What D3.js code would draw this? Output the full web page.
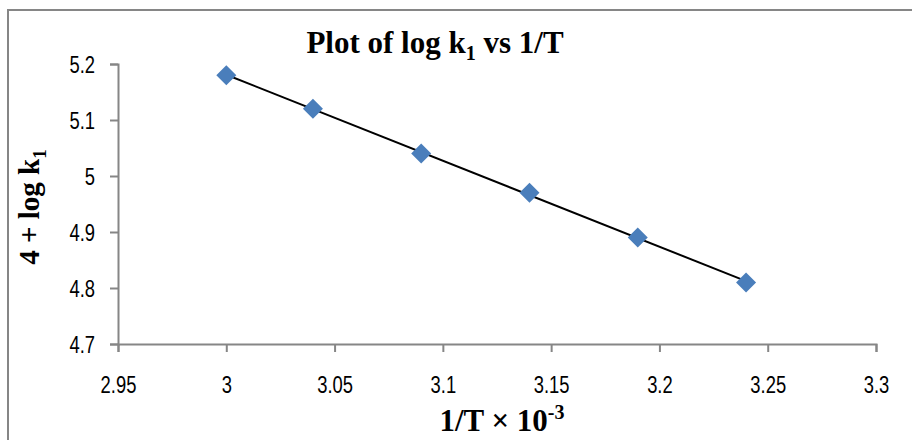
<!DOCTYPE html>
<html>
<head>
<meta charset="utf-8">
<script src="https://cdn.jsdelivr.net/npm/d3@7"></script>
<style>
body { margin: 0; background: #fff; }
svg { display: block; }
</style>
</head>
<body>
<svg id="chart" width="912" height="440"></svg>
<script>
// data
var invT = [3.00, 3.04, 3.09, 3.14, 3.19, 3.24];
var logK = [5.18, 5.12, 5.04, 4.97, 4.89, 4.81];
var xTicks = [2.95, 3, 3.05, 3.1, 3.15, 3.2, 3.25, 3.3];
var yTicks = [4.7, 4.8, 4.9, 5, 5.1, 5.2];

var svg = d3.select("#chart");
var axisColor = "#868686";
var serif = "'Liberation Serif', 'Times New Roman', serif";
var squeeze = 0.8; // tick labels are a narrow face in the original

// outer frame (right and bottom fall outside the picture)
svg.append("rect").attr("x", 8).attr("y", 10).attr("width", 960).attr("height", 500)
	.attr("fill", "none").attr("stroke", axisColor).attr("stroke-width", 2);

var x = d3.scaleLinear().domain([2.95, 3.3]).range([118, 876]);
var y = d3.scaleLinear().domain([4.7, 5.2]).range([344, 64]);

var xAxis = svg.append("g").attr("transform", "translate(0,344)")
	.call(d3.axisBottom(x).tickValues(xTicks).tickSize(8).tickPadding(25).tickFormat(d3.format("")));
var yAxis = svg.append("g").attr("transform", "translate(118,0)")
	.call(d3.axisLeft(y).tickValues(yTicks).tickSize(8).tickPadding(15).tickFormat(d3.format("")));

[xAxis, yAxis].forEach(function (a) {
	a.select(".domain").attr("stroke", axisColor).attr("stroke-width", 2);
	a.selectAll(".tick line").attr("stroke", axisColor).attr("stroke-width", 2);
	a.selectAll(".tick text").attr("fill", "#000")
		.style("font-family", "'Liberation Sans', Arial, sans-serif")
		.style("font-size", "23px")
		.attr("transform", "scale(" + squeeze + ",1)");
});
yAxis.selectAll(".tick text").attr("dy", "0.35em").attr("x", -23 / squeeze);

// least squares trendline over the data span
var mx = d3.mean(invT), my = d3.mean(logK);
var sxy = d3.sum(invT, function (v, i) { return (v - mx) * (logK[i] - my); });
var sxx = d3.sum(invT, function (v) { return (v - mx) * (v - mx); });
var slope = sxy / sxx, icpt = my - slope * mx;
var xEnds = d3.extent(invT);
svg.append("line")
	.attr("x1", x(xEnds[0])).attr("y1", y(slope * xEnds[0] + icpt))
	.attr("x2", x(xEnds[1])).attr("y2", y(slope * xEnds[1] + icpt))
	.attr("stroke", "#000").attr("stroke-width", 2);

// diamond markers
svg.append("g").selectAll("path").data(invT).enter().append("path")
	.attr("d", "M0,-10L10,0L0,10L-10,0Z")
	.attr("transform", function (d, i) { return "translate(" + x(d) + "," + y(logK[i]) + ")"; })
	.attr("fill", "#4a7ebb");

// title
var title = svg.append("text").attr("x", 435).attr("y", 53).attr("text-anchor", "middle")
	.style("font-family", serif).style("font-weight", "bold").style("font-size", "31px");
title.append("tspan").text("Plot of log k");
title.append("tspan").attr("dy", 7).style("font-size", "20px").text("1");
title.append("tspan").attr("dy", -7).text(" vs 1/T");

// y axis label
var yl = svg.append("text").attr("transform", "translate(39,207) rotate(-90)").attr("text-anchor", "middle")
	.style("font-family", serif).style("font-weight", "bold").style("font-size", "29px");
yl.append("tspan").text("4 + log k");
yl.append("tspan").attr("dy", 7).style("font-size", "19px").text("1");

// x axis label
var xl = svg.append("text").attr("x", 502).attr("y", 431).attr("text-anchor", "middle")
	.style("font-family", serif).style("font-weight", "bold").style("font-size", "31px");
xl.append("tspan").text("1/T \u00d7 10");
xl.append("tspan").attr("dy", -12).style("font-size", "20px").text("-3");
</script>
</body>
</html>
